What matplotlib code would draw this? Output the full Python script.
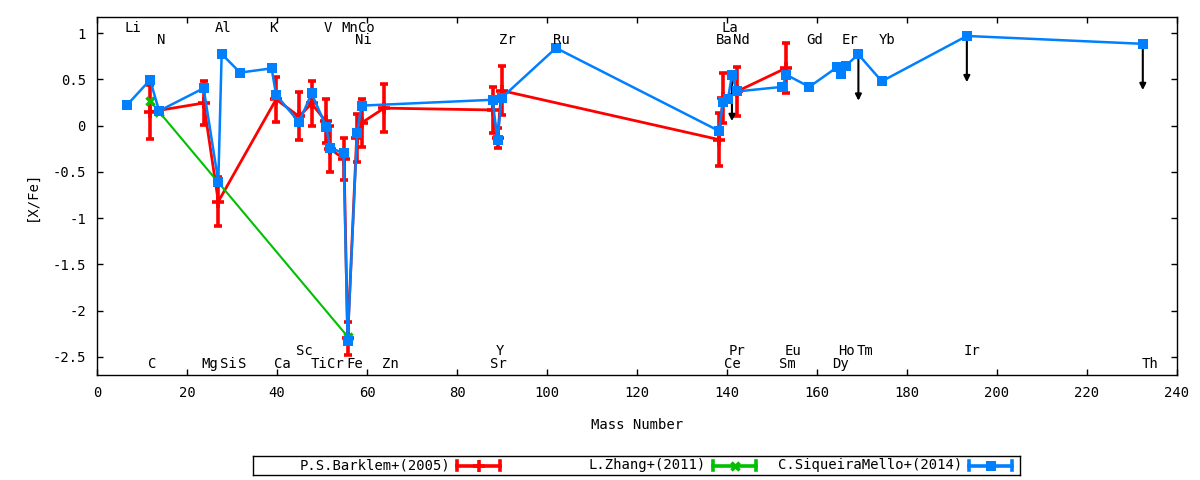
import matplotlib
matplotlib.use("Agg")
import matplotlib.pyplot as plt

plt.rcParams['font.family'] = ['DejaVu Sans Mono', 'DejaVu Sans']
plt.rcParams['font.size'] = 10
plt.rcParams['axes.unicode_minus'] = False

# ---------------- data ----------------
# P.S.Barklem+(2005)
barklem_mass = [11.8, 23.7, 26.96, 39.8, 44.9, 47.7, 50.8, 51.8, 54.9, 55.7, 57.7, 58.8, 63.8,
                87.9, 89.0, 89.9, 138.2, 139.1, 142.2, 153.2]
barklem_val = [0.15, 0.245, -0.82, 0.285, 0.10, 0.24, 0.05, -0.25, -0.36, -2.30, -0.13, 0.03, 0.19,
               0.17, -0.13, 0.38, -0.15, 0.30, 0.37, 0.625]
barklem_err = [0.29, 0.24, 0.26, 0.245, 0.26, 0.24, 0.24, 0.25, 0.23, 0.18, 0.26, 0.26, 0.26,
               0.245, 0.11, 0.26, 0.285, 0.27, 0.26, 0.27]

# L.Zhang+(2011)
zhang_mass = [11.8, 13.8, 55.7]
zhang_val = [0.27, 0.15, -2.28]

# C.SiqueiraMello+(2014)
siq_mass = [6.7, 11.8, 13.8, 23.7, 26.96, 27.7, 31.8, 38.8, 39.8, 44.9, 47.7, 50.9, 51.8, 54.8,
            55.7, 57.8, 58.8, 87.9, 89.0, 89.9, 102.0, 138.2, 139.1, 140.2, 141.1, 142.2,
            152.3, 153.2, 158.3, 164.4, 165.3, 166.4, 169.2, 174.4, 193.3, 232.4]
siq_val = [0.225, 0.495, 0.16, 0.405, -0.604, 0.776, 0.574, 0.62, 0.333, 0.038, 0.35, -0.01, -0.236, -0.30,
           -2.33, -0.08, 0.217, 0.28, -0.16, 0.30, 0.84, -0.056, 0.254, 0.286, 0.55, 0.37,
           0.42, 0.55, 0.42, 0.63, 0.56, 0.65, 0.77, 0.48, 0.97, 0.885]

# upper limits (arrows) in SiqueiraMello+(2014)
limit_mass = [141.1, 169.2, 193.3, 232.4]
limit_val = [0.55, 0.77, 0.97, 0.885]

# element labels
labels_top = ["Li", "Al", "K", "V", "Mn", "Co", "La"]
labels_top_x = [8.0, 27.95, 39.1, 51.2, 56.1, 59.8, 140.6]
labels_second = ["N", "Ni", "Zr", "Ru", "Ba", "Nd", "Gd", "Er", "Yb"]
labels_second_x = [14.2, 59.1, 91.2, 103.1, 139.3, 143.2, 159.4, 167.3, 175.5]
labels_bottom = ["C", "Mg", "Si", "S", "Ca", "Ti", "Cr", "Fe", "Zn", "Sr", "Ce", "Sm", "Dy", "Th"]
labels_bottom_x = [12.2, 25.1, 29.1, 32.3, 41.1, 49.3, 53.0, 57.3, 65.2, 89.1, 141.2, 153.5, 165.3, 234.1]
labels_upbottom = ["Sc", "Y", "Pr", "Eu", "Ho", "Tm", "Ir"]
labels_upbottom_x = [46.0, 89.5, 142.3, 154.6, 166.6, 170.6, 194.4]

x_ticks = list(range(0, 241, 20))
y_ticks = [-2.5, -2, -1.5, -1, -0.5, 0, 0.5, 1]
y_tick_labels = ["-2.5", "-2", "-1.5", "-1", "-0.5", "0", "0.5", "1"]

legend_names = ["P.S.Barklem+(2005)", "L.Zhang+(2011)", "C.SiqueiraMello+(2014)"]

RED = '#ff0000'
GREEN = '#00c000'
BLUE = '#0080ff'

# ---------------- figure ----------------
W, H = 1200, 480
fig = plt.figure(figsize=(12, 4.8), dpi=100)
ax = fig.add_axes([97 / W, 105 / H, 1080 / W, 358 / H])

ax.errorbar(barklem_mass, barklem_val, yerr=barklem_err, color=RED, lw=2.0,
            elinewidth=2.6, capsize=3, capthick=2.6, marker='+', ms=8, mew=2.6, zorder=2)
ax.plot(zhang_mass, zhang_val, color=GREEN, lw=1.5, marker='x', ms=6, mew=2.5, zorder=3)
for m, v in zip(limit_mass, limit_val):
    ax.annotate('', xy=(m, v - 0.5), xytext=(m, v),
                arrowprops=dict(arrowstyle='-|>', color='k', lw=1.5, mutation_scale=9,
                                shrinkA=0, shrinkB=0), zorder=4)
ax.plot(siq_mass, siq_val, color=BLUE, lw=1.8, marker='s', ms=7.5, mew=0, zorder=5)

for names, xs, yb in [(labels_top, labels_top_x, 1.015),
                      (labels_second, labels_second_x, 0.885),
                      (labels_upbottom, labels_upbottom_x, -2.475),
                      (labels_bottom, labels_bottom_x, -2.62)]:
    for n, x in zip(names, xs):
        ax.text(x, yb, n, ha='center', va='baseline', zorder=6)

ax.set_xlim(0, 240)
ax.set_ylim(-2.695, 1.175)
ax.set_xticks(x_ticks)
ax.set_yticks(y_ticks)
ax.set_yticklabels(y_tick_labels)
ax.tick_params(direction='in', top=True, right=True, length=4, width=1, pad=8)
for s in ax.spines.values():
    s.set_linewidth(1)
ax.set_xlabel("Mass Number")
ax.set_ylabel("[X/Fe]")
ax.xaxis.set_label_coords(0.5, -0.14)
ax.xaxis.label.set_va('center')
ax.yaxis.set_label_coords(-0.060, 0.5)
ax.yaxis.label.set_va('center')

# ---------------- legend (gnuplot style) ----------------
lax = fig.add_axes([253 / W, 5 / H, 767 / W, 19 / H])
lax.set_xlim(0, 767)
lax.set_ylim(0, 19)
lax.set_xticks([])
lax.set_yticks([])
for s in lax.spines.values():
    s.set_linewidth(1)
styles = [dict(color=RED, lw=2.6, marker='+', ms=8, mew=2.6),
          dict(color=GREEN, lw=2.6, marker='x', ms=6, mew=2.5),
          dict(color=BLUE, lw=2.6, marker='s', ms=7.5, mew=0)]
for i, (name, st) in enumerate(zip(legend_names, styles)):
    x0 = 256 * i
    lax.text(x0 + 197, 9.5, name, ha='right', va='center')
    a, b = x0 + 204, x0 + 247
    lax.plot([a, b], [9.5, 9.5], color=st['color'], lw=st['lw'])
    lax.plot([a, a], [5, 14], color=st['color'], lw=st['lw'])
    lax.plot([b, b], [5, 14], color=st['color'], lw=st['lw'])
    lax.plot([(a + b) / 2], [9.5], linestyle='none', color=st['color'],
             marker=st['marker'], ms=st['ms'], mew=st['mew'])

fig.savefig("out.png", dpi=100)
